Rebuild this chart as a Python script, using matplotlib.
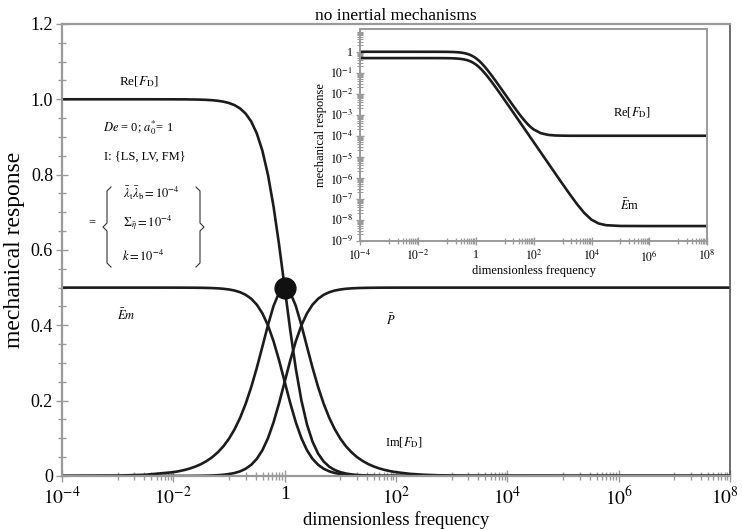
import matplotlib

matplotlib.use("Agg")
import matplotlib.pyplot as plt
import numpy as np
from matplotlib.ticker import FixedLocator, FixedFormatter, NullFormatter
from matplotlib.transforms import ScaledTranslation

plt.rcParams["font.family"] = ["Liberation Serif", "DejaVu Serif"]
plt.rcParams["mathtext.fontset"] = "stix"

# dimensionless frequency, as log10 exponents of the sampled points
log_freq = ([-4.0, -3.0, -2.5]
            + [-2.0, -1.9, -1.8, -1.7, -1.6, -1.5, -1.4, -1.3, -1.2, -1.1,
               -1.0, -0.9, -0.8, -0.7, -0.6, -0.5, -0.4, -0.3, -0.2, -0.1,
               0.0, 0.1, 0.2, 0.3, 0.4, 0.5, 0.6, 0.7, 0.8, 0.9,
               1.0, 1.1, 1.2, 1.3, 1.4, 1.5, 1.6, 1.7, 1.8, 1.9, 2.0]
            + [2.25, 2.5, 2.75, 3.0, 3.25, 3.5, 3.75, 4.0, 4.25, 4.5, 5.0, 6.0, 8.0])

# curves (main plot and log-log inset share them)
re_fd = ([1.0, 1.0, 1.0]
         + [0.9999, 0.9998, 0.9998, 0.9996, 0.9994, 0.9990, 0.9984, 0.9975, 0.9960, 0.9937,
            0.9901, 0.9844, 0.9755, 0.9617, 0.9407, 0.9091, 0.8632, 0.7992, 0.7153, 0.6131,
            0.5, 0.3869, 0.2848, 0.2008, 0.1369, 0.0910, 0.0594, 0.0384, 0.0246, 0.0157,
            0.0100, 0.00637, 0.00407, 0.00261, 0.00168, 0.00110, 0.000731, 0.000498, 0.000351,
            0.000258, 0.000200]
         + [0.000132, 0.000110, 0.000103, 0.000101, 0.0001, 0.0001, 0.0001, 0.0001, 0.0001,
            0.0001, 0.0001, 0.0001, 0.0001])
im_fd = ([0.0001, 0.001, 0.00316]
         + [0.0100, 0.0126, 0.0158, 0.0199, 0.0251, 0.0316, 0.0398, 0.0500, 0.0629, 0.0789,
            0.0990, 0.1239, 0.1546, 0.1919, 0.2363, 0.2875, 0.3436, 0.4006, 0.4513, 0.4870,
            0.5, 0.4870, 0.4513, 0.4006, 0.3436, 0.2875, 0.2363, 0.1919, 0.1546, 0.1239,
            0.0990, 0.0789, 0.0629, 0.0500, 0.0398, 0.0316, 0.0251, 0.0199, 0.0158, 0.0126,
            0.0100]
         + [0.0056, 0.00316, 0.0018, 0.001, 0.00056, 0.00032, 0.00018, 0.0001, 0.00006,
            0.00003, 0.00001, 0.0, 0.0])
em = ([0.5, 0.5, 0.5]
      + [0.49995, 0.49992, 0.49987, 0.4998, 0.49968, 0.4995, 0.49921, 0.49875, 0.49801, 0.49686,
         0.49505, 0.4922, 0.48775, 0.48085, 0.47032, 0.45455, 0.4316, 0.39962, 0.35762, 0.30657,
         0.25, 0.19343, 0.14238, 0.10038, 0.0684, 0.04545, 0.02968, 0.01915, 0.01225, 0.0078,
         0.00495, 0.00314, 0.00199, 0.00126, 0.00079, 0.0005, 0.000316, 0.000199, 0.000126,
         7.9e-5, 5.0e-5]
      + [1.58e-5, 5.0e-6, 1.58e-6, 5.0e-7, 1.63e-7, 5.5e-8, 2.1e-8, 1.0e-8, 6.6e-9, 5.5e-9,
         5.05e-9, 5.0e-9, 5.0e-9])
p_bar = ([0.0, 0.0, 0.0]
         + [0.00005, 0.00008, 0.00013, 0.0002, 0.00032, 0.0005, 0.00079, 0.00126, 0.00199, 0.00314,
            0.00495, 0.0078, 0.01225, 0.01915, 0.02968, 0.04545, 0.0684, 0.10038, 0.14238, 0.19343,
            0.25, 0.30657, 0.35762, 0.39962, 0.4316, 0.45455, 0.47032, 0.48085, 0.48775, 0.4922,
            0.49505, 0.49686, 0.49801, 0.49875, 0.49921, 0.4995, 0.49968, 0.4998, 0.49987,
            0.49992, 0.49995]
         + [0.5, 0.5, 0.5, 0.5, 0.5, 0.5, 0.5, 0.5, 0.5, 0.5, 0.5, 0.5, 0.5])

x_major = [1e-4, 1e-2, 1, 1e2, 1e4, 1e6, 1e8]
x_major_labels = [r"$10^{-4}$", r"$10^{-2}$", "1", r"$10^{2}$", r"$10^{4}$", r"$10^{6}$", r"$10^{8}$"]
y_major = [0, 0.2, 0.4, 0.6, 0.8, 1.0, 1.2]
y_major_labels = ["0", "0.2", "0.4", "0.6", "0.8", "1.0", "1.2"]
inset_y_major = [10.0 ** e for e in range(0, -10, -1)]
inset_y_labels = ["1"] + [rf"$10^{{{e}}}$" for e in range(-1, -10, -1)]

LINE = "#1c1c1c"
GREY = "#9a9a9a"

freq = 10.0 ** np.array(log_freq)
odd_minor = [k * 10.0 ** d for d in (-3, -1, 1, 3, 5, 7) for k in range(1, 10)]


def style_log_x(ax, labelsize, major_len, minor_len):
    ax.set_xscale("log")
    ax.set_xlim(1e-4, 1e8)
    ax.xaxis.set_major_locator(FixedLocator(x_major))
    ax.xaxis.set_major_formatter(FixedFormatter(x_major_labels))
    ax.xaxis.set_minor_locator(FixedLocator(odd_minor))
    ax.xaxis.set_minor_formatter(NullFormatter())
    ax.tick_params(axis="x", which="major", direction="inout", length=major_len, width=1.0,
                   color=GREY, labelsize=labelsize, pad=3)
    ax.tick_params(axis="x", which="minor", direction="inout", length=minor_len, width=1.0,
                   color=GREY)


fig = plt.figure(figsize=(7.42, 5.30), dpi=100)
ax = fig.add_axes([0.0836, 0.102, 0.9002, 0.8528])

for series in (re_fd, im_fd, em, p_bar):
    ax.plot(freq, series, color=LINE, lw=1.9)
ax.plot([1.0], [0.5], "o", color="#111111", ms=15, zorder=5)

style_log_x(ax, 14, 9, 6)
ax.set_ylim(0, 1.2)
ax.yaxis.set_major_locator(FixedLocator(y_major))
ax.yaxis.set_major_formatter(FixedFormatter(y_major_labels))
ax.yaxis.set_minor_locator(FixedLocator(np.arange(0, 1.21, 0.05)))
ax.tick_params(axis="y", which="major", direction="inout", length=9, width=1.0, color=GREY,
               labelsize=13, pad=2)
ax.tick_params(axis="y", which="minor", direction="inout", length=6, width=1.0, color=GREY)
for side in ("left", "bottom", "top"):
    ax.spines[side].set_color(GREY)
    ax.spines[side].set_linewidth(1.6)
ax.spines["right"].set_color("#555555")
ax.spines["right"].set_linewidth(1.2)

# nudge the last x label so it stays inside the canvas
last = ax.get_xticklabels()[-1]
last.set_transform(last.get_transform() + ScaledTranslation(-0.05, 0, fig.dpi_scale_trans))

ax.set_xlabel("dimensionless frequency", fontsize=13.5, labelpad=2)
ax.set_ylabel("mechanical response", fontsize=17, labelpad=4)
ax.set_title("no inertial mechanisms", fontsize=12.5, pad=3)

# annotations
ax.text(10 ** -2.61, 1.046, r"Re[$F_{\mathrm{D}}$]", fontsize=9.5, ha="center", va="center")
ax.text(10 ** -2.63, 0.924, r"$De$ = 0; $a_0^{*}$= 1", fontsize=9, ha="center", va="center")
ax.text(10 ** -2.52, 0.847, "I: {LS, LV, FM}", fontsize=9, ha="center", va="center")
ax.text(10 ** -3.46, 0.674, "=", fontsize=9, ha="center", va="center")
ax.text(10 ** -2.905, 0.751, r"$\bar{\lambda}_{\mathrm{t}}\bar{\lambda}_{\mathrm{b}} = 10^{-4}$",
        fontsize=9, ha="left", va="center")
ax.text(10 ** -2.905, 0.672, r"$\Sigma_{\bar{\eta}} = 10^{-4}$", fontsize=9, ha="left", va="center")
ax.text(10 ** -2.92, 0.584, r"$k = 10^{-4}$", fontsize=9, ha="left", va="center")
ax.text(10 ** -2.84, 0.425, r"$\bar{E}m$", fontsize=9, ha="center", va="center")
ax.text(10 ** 1.91, 0.414, r"$\bar{P}$", fontsize=9, ha="center", va="center")
ax.text(10 ** 2.14, 0.088, r"Im[$F_{\mathrm{D}}$]", fontsize=9, ha="center", va="center")

# curly braces around the parameter block, drawn in figure pixels
W, H = 742.0, 530.0


def brace(x0, top, bot, facing):
    mid = 0.5 * (top + bot)
    d = 4 * facing
    xs = [x0 + d, x0, x0, x0 - d, x0, x0, x0 + d]
    ys = [top, top + 4, mid - 4, mid, mid + 4, bot - 4, bot]
    fig.lines.append(plt.Line2D([x / W for x in xs], [1 - y / H for y in ys],
                                transform=fig.transFigure, color="#333333", lw=0.8))


brace(107, 187, 267, 1)
brace(200, 187, 267, -1)

# inset: log-log view of the same response
ins = fig.add_axes([0.4852, 0.5458, 0.468, 0.3989])
ins.plot(freq, re_fd, color=LINE, lw=1.9)
ins.plot(freq, em, color=LINE, lw=1.9)
style_log_x(ins, 8.5, 6, 4)
ins.set_yscale("log")
ins.set_ylim(1e-9, 10 ** 1.07)
ins.yaxis.set_major_locator(FixedLocator(inset_y_major))
ins.yaxis.set_major_formatter(FixedFormatter(inset_y_labels))
ins.yaxis.set_minor_locator(FixedLocator(
    [k * 10.0 ** d for d in range(-9, 2) for k in range(2, 10) if k * 10.0 ** d < 11.7]))
ins.yaxis.set_minor_formatter(NullFormatter())
ins.tick_params(axis="y", which="major", direction="inout", length=6, width=1.0, color=GREY,
                labelsize=8.5, pad=2)
ins.tick_params(axis="y", which="minor", direction="inout", length=4, width=0.8, color=GREY)
for side in ins.spines.values():
    side.set_color(GREY)
    side.set_linewidth(1.4)
ins.set_xlabel("dimensionless frequency", fontsize=9, labelpad=1)
ins.set_ylabel("mechanical response", fontsize=9, labelpad=2)
ins.text(10 ** 5.38, 10 ** -2.92, r"Re[$F_{\mathrm{D}}$]", fontsize=9, ha="center", va="center")
ins.text(10 ** 5.31, 10 ** -7.3, r"$\bar{E}$m", fontsize=9, ha="center", va="center")

fig.savefig("out.png", dpi=100)
